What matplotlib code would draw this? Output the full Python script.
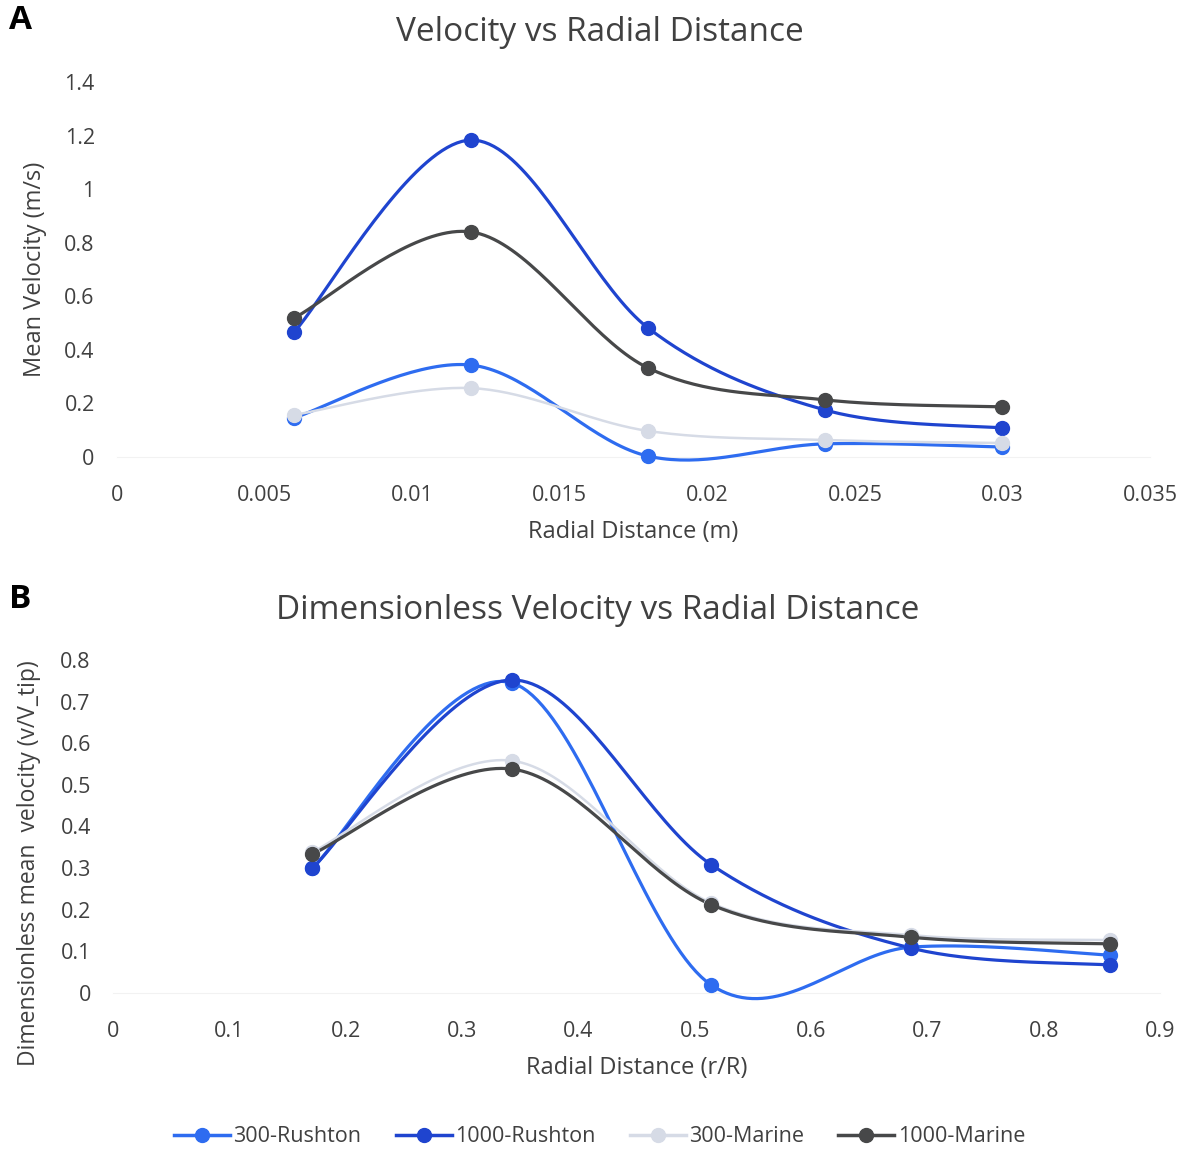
import numpy as np
import matplotlib.pyplot as plt
from matplotlib.lines import Line2D

plt.rcParams['font.family'] = ['Open Sans', 'DejaVu Sans']

# radial positions
r_m = [0.006, 0.012, 0.018, 0.024, 0.030]
r_R = [0.1714, 0.3429, 0.5143, 0.6857, 0.8571]

# mean velocity (m/s)
v_300_rushton = [0.146, 0.343, 0.003, 0.049, 0.037]
v_1000_rushton = [0.466, 1.183, 0.481, 0.175, 0.108]
v_300_marine = [0.157, 0.257, 0.097, 0.063, 0.052]
v_1000_marine = [0.519, 0.840, 0.332, 0.213, 0.187]

# dimensionless velocity (v/V_tip)
d_300_rushton = [0.300, 0.745, 0.019, 0.110, 0.091]
d_1000_rushton = [0.300, 0.752, 0.308, 0.108, 0.067]
d_300_marine = [0.339, 0.558, 0.216, 0.139, 0.127]
d_1000_marine = [0.334, 0.538, 0.212, 0.134, 0.118]

labels = ["300-Rushton", "1000-Rushton", "300-Marine", "1000-Marine"]
colores = ["#2e6cf0", "#1f44cf", "#d6dbe6", "#474849"]
anchos = [2.3, 2.3, 1.8, 2.3]


def suavizar(x, y, n=40):
    # curva tipo Excel (Catmull-Rom con tramos Bezier)
    x = np.asarray(x, float)
    y = np.asarray(y, float)
    p = np.column_stack([x, y])
    ext = np.vstack([p[0], p, p[-1]])
    t = np.linspace(0, 1, n)[:, None]
    out = []
    for i in range(len(p) - 1):
        p0, p1, p2, p3 = ext[i], ext[i + 1], ext[i + 2], ext[i + 3]
        c1 = p1 + (p2 - p0) / 6
        c2 = p2 - (p3 - p1) / 6
        seg = ((1 - t) ** 3) * p1 + 3 * ((1 - t) ** 2) * t * c1 + 3 * (1 - t) * t ** 2 * c2 + t ** 3 * p2
        out.append(seg)
    out = np.vstack(out)
    return out[:, 0], out[:, 1]


def dibujar(ax, x, series):
    for y, c, w in zip(series, colores, anchos):
        xs, ys = suavizar(x, y)
        ax.plot(xs, ys, color=c, lw=w, clip_on=False, zorder=3)
        ax.plot(x, y, "o", color=c, ms=10, clip_on=False, zorder=4)
    for s in ["top", "right", "left"]:
        ax.spines[s].set_visible(False)
    ax.spines["bottom"].set_color("#f2f2f2")
    ax.tick_params(length=0, labelsize=15.5, colors="#404040")
    ax.tick_params(axis="x", pad=20)
    ax.tick_params(axis="y", pad=16)


fig = plt.figure(figsize=(11.85, 11.51), dpi=100)

# panel A
ax1 = fig.add_axes([0.0987, 0.603, 0.8718, 0.3258])
dibujar(ax1, r_m, [v_300_rushton, v_1000_rushton, v_300_marine, v_1000_marine])
ax1.set_xlim(0, 0.035)
ax1.set_ylim(0, 1.4)
ax1.set_xticks(np.arange(0, 0.0351, 0.005))
ax1.set_xticklabels(["0", "0.005", "0.01", "0.015", "0.02", "0.025", "0.03", "0.035"])
ax1.set_yticks(np.arange(0, 1.41, 0.2))
ax1.set_yticklabels(["0", "0.2", "0.4", "0.6", "0.8", "1", "1.2", "1.4"])
ax1.set_xlabel("Radial Distance (m)", fontsize=17, color="#404040", labelpad=10)
ax1.set_ylabel("Mean Velocity (m/s)", fontsize=17, color="#404040")
ax1.yaxis.set_label_coords(-0.068, 0.5)
fig.text(0.506, 0.9715, "Velocity vs Radial Distance", fontsize=24, color="#404040",
         ha="center", va="center")
fig.text(0.008, 0.982, "A", fontsize=24, fontweight="bold", ha="left", va="center")

# panel B
ax2 = fig.add_axes([0.0954, 0.1373, 0.8835, 0.2893])
dibujar(ax2, r_R, [d_300_rushton, d_1000_rushton, d_300_marine, d_1000_marine])
ax2.set_xlim(0, 0.9)
ax2.set_ylim(0, 0.8)
ax2.set_xticks(np.arange(0, 0.91, 0.1))
ax2.set_xticklabels(["0", "0.1", "0.2", "0.3", "0.4", "0.5", "0.6", "0.7", "0.8", "0.9"])
ax2.set_yticks(np.arange(0, 0.81, 0.1))
ax2.set_yticklabels(["0", "0.1", "0.2", "0.3", "0.4", "0.5", "0.6", "0.7", "0.8"])
ax2.set_xlabel("Radial Distance (r/R)", fontsize=17, color="#404040", labelpad=10)
ax2.set_ylabel("Dimensionless mean  velocity (v/V_tip)", fontsize=16.5, color="#404040")
ax2.yaxis.set_label_coords(-0.069, 0.39)
fig.text(0.504, 0.4697, "Dimensionless Velocity vs Radial Distance", fontsize=24,
         color="#404040", ha="center", va="center")
fig.text(0.008, 0.479, "B", fontsize=24, fontweight="bold", ha="left", va="center")

# leyenda abajo
handles = [Line2D([0], [0], color=c, lw=2.5, marker="o", ms=10) for c in colores]
fig.legend(handles, labels, loc="center", bbox_to_anchor=(0.506, 0.0125), ncol=4,
           frameon=False, fontsize=15.5, handlelength=2.6, handletextpad=0.15,
           columnspacing=1.6, labelcolor="#404040")

plt.savefig("out.png", dpi=100)
